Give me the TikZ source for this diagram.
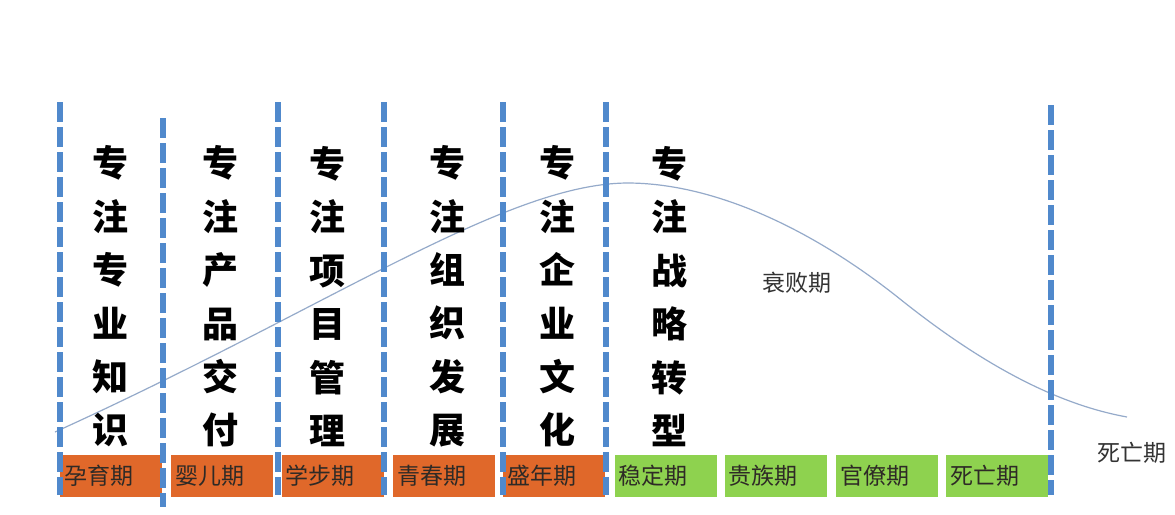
\documentclass[tikz,border=0pt]{standalone}
\usepackage{fontspec}
\newfontfamily\cjk{Noto Sans CJK SC}
\definecolor{dblue}{HTML}{5089CC}
\definecolor{orng}{HTML}{E0682A}
\definecolor{grn}{HTML}{8ED24F}
\definecolor{curve}{HTML}{95AACA}
\definecolor{txt}{HTML}{2E2A26}
\tikzset{
  dline/.style={draw=dblue, line width=6.5pt, dash pattern=on 20pt off 5pt},
  stagebox/.style={text=txt, font=\cjk\fontsize{23}{26}\selectfont, text width=94pt, minimum height=42pt, inner xsep=4pt, inner ysep=0pt, align=left},
  obox/.style={stagebox, fill=orng},
  gbox/.style={stagebox, fill=grn},
  vtext/.style={font=\cjk\bfseries\fontsize{36}{53.4}\selectfont, align=center, text=black},
  side/.style={font=\cjk\fontsize{23}{26}\selectfont, text=black!80}
}
\begin{document}
\begin{tikzpicture}[x=1pt,y=-1pt]
\fill[white] (0,0) rectangle (1175,514);
\useasboundingbox (0,0) rectangle (1175,514);
% stage boxes
\node[obox] (b1) at (111,476) {孕育期};
\node[obox] (b2) at (222,476) {婴儿期};
\node[obox] (b3) at (332.5,476) {学步期};
\node[obox] (b4) at (444,476) {青春期};
\node[obox] (b5) at (554,476) {盛年期};
\node[gbox] (b6) at (665.5,476) {稳定期};
\node[gbox] (b7) at (775.5,476) {贵族期};
\node[gbox] (b8) at (887,476) {官僚期};
\node[gbox] (b9) at (997,476) {死亡期};
% curve
\draw[curve, line width=1.2pt] (55,432) .. controls (330,307) and (505,184) .. (627,183)
  .. controls (720,183) and (820,235) .. (900,299)
  .. controls (980,363) and (1055,404) .. (1127,417);
% dashed separators
\coordinate (l1t) at (60,102);  \coordinate (l1b) at (60,495);
\coordinate (l2t) at (163,118); \coordinate (l2b) at (163,507);
\coordinate (l3t) at (278,102); \coordinate (l3b) at (278,495);
\coordinate (l4t) at (384,102); \coordinate (l4b) at (384,495);
\coordinate (l5t) at (503,102); \coordinate (l5b) at (503,495);
\coordinate (l6t) at (606,102); \coordinate (l6b) at (606,495);
\coordinate (l7t) at (1051,105); \coordinate (l7b) at (1051,495);
\foreach \i in {1,...,7} \draw[dline] (l\i t) -- (l\i b);
% vertical texts
\node[vtext] (v1) at (110,296.5) {专\\注\\专\\业\\知\\识};
\node[vtext] (v2) at (220,296.5) {专\\注\\产\\品\\交\\付};
\node[vtext] (v3) at (327,296.5) {专\\注\\项\\目\\管\\理};
\node[vtext] (v4) at (447,296.5) {专\\注\\组\\织\\发\\展};
\node[vtext] (v5) at (557,296.5) {专\\注\\企\\业\\文\\化};
\node[vtext] (v6) at (669,296.5) {专\\注\\战\\略\\转\\型};
% side labels
\node[side] (decl) at (797,283) {衰败期};
\node[side] (death) at (1132,453) {死亡期};
\end{tikzpicture}
\end{document}
